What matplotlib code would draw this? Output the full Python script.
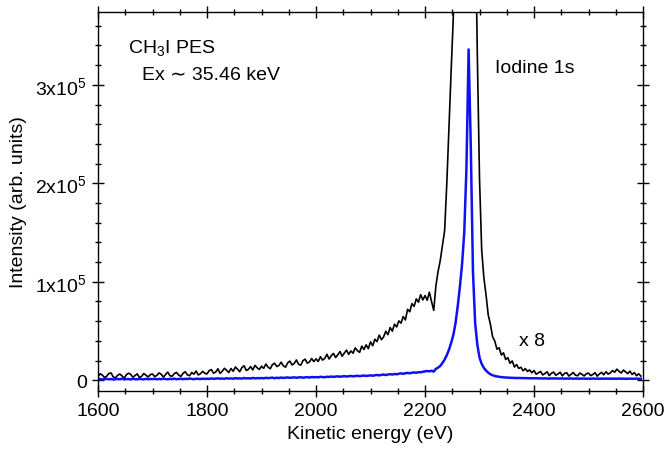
import numpy as np
import matplotlib
matplotlib.use("Agg")
import matplotlib.pyplot as plt
from matplotlib.ticker import MultipleLocator

plt.rcParams['font.family'] = ['Liberation Sans', 'DejaVu Sans']
plt.rcParams['mathtext.fontset'] = 'custom'
plt.rcParams['mathtext.rm'] = 'Liberation Sans'
plt.rcParams['mathtext.it'] = 'Liberation Sans'

# -----------------------------
# data (intensity in 10^3 counts)
# -----------------------------
e_start, e_stop, e_step = 1600, 2596, 4
energy = np.arange(e_start, e_stop + 1, e_step)

# black trace: spectrum x 8
black_k = [
    3.8, 6.5, 5.2, 2.6, 4.1, 6.9, 7.3, 3.2, 2.4, 5.0, 6.2, 4.4, 1.9, 5.6, 7.1, 5.9, 3.0, 4.7, 6.4, 2.7, 3.9, 6.8, 5.1, 3.3, 5.7,
    6.3, 3.6, 4.9, 7.4, 6.0, 3.1, 5.8, 8.2, 4.5, 4.0, 6.7, 7.9, 5.2, 3.8, 6.9, 8.6, 5.5, 4.6, 7.8, 6.1, 9.3, 5.3, 6.6, 9.0, 7.0,
    6.4, 9.7, 10.8, 7.1, 8.3, 11.6, 6.9, 9.2, 12.1, 10.0, 7.8, 11.9, 9.0, 13.4, 11.2, 8.6, 12.8, 14.7, 9.9, 11.0, 13.9, 10.4, 15.1, 12.6, 10.9,
    14.2, 12.0, 16.4, 13.3, 11.6, 15.8, 17.2, 13.9, 15.0, 18.3, 14.6, 13.2, 17.6, 19.4, 15.5, 17.0, 20.6, 16.1, 15.3, 19.8, 21.4, 17.3, 18.6, 22.0, 18.9,
    21.7, 19.0, 23.8, 20.4, 22.1, 26.3, 21.5, 24.9, 27.2, 23.0, 25.8, 29.1, 24.3, 27.6, 30.5, 26.2, 29.7, 27.4, 32.8, 30.0, 28.3, 34.6, 31.2, 35.9, 32.0,
    38.9, 35.0, 41.6, 39.2, 45.8, 41.1, 44.0, 49.7, 46.3, 53.5, 49.8, 56.9, 54.1, 60.2, 58.0, 64.7, 61.2, 72.0, 69.5, 77.8, 75.0, 82.6, 79.3, 86.9, 81.5,
    86.0, 81.2, 89.4, 79.8, 71.0, 96.0, 110.5, 121.8, 137.0, 152.0, 200.0, 258.0, 315.0, 370.0, 470.0, 640.0, 890.0, 1280.0, 1850.0, 2380.0, 2690.0, 2350.0, 1150.0, 480.0, 330.0,
    205.0, 132.0, 104.0, 86.5, 66.2, 56.8, 44.1, 39.7, 31.5, 33.0, 25.6, 27.8, 21.0, 22.9, 17.2, 19.6, 13.4, 15.9, 12.0, 13.1, 9.6, 11.8, 8.9, 10.4, 7.6,
    9.8, 6.1, 7.4, 8.9, 5.3, 6.8, 8.5, 4.6, 7.1, 8.2, 5.0, 6.3, 8.0, 4.4, 6.9, 7.6, 4.2, 5.9, 7.8, 5.1, 4.5, 7.3, 6.0, 4.3, 6.6,
    7.2, 4.6, 5.8, 7.6, 4.1, 6.4, 7.9, 5.5, 8.6, 6.2, 7.4, 9.8, 8.1, 11.2, 9.0, 7.3, 10.3, 8.4, 6.7, 9.1, 5.8, 7.7, 4.6, 6.5, 4.2,
]

# blue trace: raw spectrum
blue_k = [
    0.9, 1.3, 0.7, 1.1, 1.4, 0.8, 1.2, 0.6, 1.0, 1.3, 0.9, 1.5, 0.8, 1.1, 1.2, 0.7, 1.4, 1.0, 0.9, 1.3, 1.1, 0.8, 1.4, 1.0, 1.2,
    1.1, 1.4, 0.9, 1.3, 1.0, 1.5, 1.2, 0.9, 1.4, 1.1, 1.6, 1.0, 1.3, 1.5, 1.1, 1.4, 1.2, 1.7, 1.3, 1.0, 1.5, 1.4, 1.2, 1.6, 1.3,
    1.5, 1.3, 1.8, 1.4, 1.6, 1.9, 1.5, 1.7, 1.4, 2.0, 1.6, 1.8, 1.5, 2.1, 1.7, 1.9, 1.6, 2.2, 1.8, 2.0, 1.7, 2.3, 1.9, 2.1, 2.0,
    2.2, 1.9, 2.4, 2.1, 2.3, 2.6, 2.0, 2.5, 2.2, 2.7, 2.3, 2.5, 2.8, 2.4, 2.6, 2.9, 2.5, 2.8, 3.0, 2.6, 2.9, 3.1, 2.7, 3.2, 3.0,
    3.1, 2.9, 3.4, 3.2, 3.0, 3.5, 3.3, 3.7, 3.4, 3.6, 3.9, 3.5, 3.8, 4.1, 3.7, 4.0, 4.3, 3.9, 4.2, 4.5, 4.1, 4.4, 4.7, 4.3, 4.6,
    4.9, 4.5, 5.0, 5.3, 4.9, 5.4, 5.7, 5.2, 5.8, 6.1, 5.7, 6.3, 6.0, 6.6, 6.9, 6.5, 7.1, 7.4, 7.0, 7.6, 7.9, 7.5, 8.2, 8.0, 8.6,
    8.9, 9.3, 9.0, 9.6, 8.7, 11.5, 12.8, 14.5, 17.5, 21.0, 25.5, 31.0, 38.0, 46.0, 58.0, 75.0, 95.0, 118.0, 150.0, 215.0, 336.0, 237.0, 110.0, 58.0, 36.0,
    23.0, 16.5, 12.5, 9.8, 7.6, 6.0, 5.0, 4.3, 3.8, 3.4, 3.1, 2.9, 2.7, 2.6, 2.5, 2.3, 2.4, 2.2, 2.3, 2.1, 2.2, 2.0, 2.1, 1.9, 2.0,
    1.9, 2.0, 1.8, 1.9, 1.7, 1.9, 1.8, 1.6, 1.8, 1.7, 1.9, 1.6, 1.7, 1.8, 1.5, 1.7, 1.6, 1.8, 1.5, 1.7, 1.6, 1.5, 1.7, 1.6, 1.5,
    1.6, 1.4, 1.7, 1.5, 1.6, 1.4, 1.6, 1.5, 1.7, 1.4, 1.6, 1.5, 1.6, 1.4, 1.7, 1.5, 1.6, 1.4, 1.5, 1.6, 1.4, 1.5, 1.6, 1.4, 1.5,
]

y_ticks = [0, 1e5, 2e5, 3e5]
y_tick_labels = ["0", "1x10$^5$", "2x10$^5$", "3x10$^5$"]

# -----------------------------
# plot
# -----------------------------
fig = plt.figure(figsize=(6.64, 4.52), dpi=100)
ax = fig.add_axes([0.1476, 0.1327, 0.8208, 0.8385])

ax.plot(energy, np.array(black_k) * 1e3, color='black', lw=1.2)
ax.plot(energy, np.array(blue_k) * 1e3, color='#1010f0', lw=1.8)

ax.set_xlim(1600, 2600)
ax.set_ylim(-11000, 374000)
ax.xaxis.set_major_locator(MultipleLocator(200))
ax.xaxis.set_minor_locator(MultipleLocator(50))
ax.set_yticks(y_ticks)
ax.set_yticklabels(y_tick_labels)
ax.yaxis.set_minor_locator(MultipleLocator(2e4))

ax.tick_params(which='both', direction='inout', labelsize=14, width=1.0, pad=4)
ax.tick_params(which='major', length=8)
ax.tick_params(which='minor', length=5)
ax.tick_params(which='both', top=True, right=True)
for sp in ax.spines.values():
    sp.set_linewidth(1.0)

ax.set_xlabel("Kinetic energy (eV)", fontsize=14, labelpad=4)
ax.set_ylabel("Intensity (arb. units)", fontsize=14, labelpad=6)

ax.text(0.055, 0.895, "CH$_3$I PES", transform=ax.transAxes, fontsize=14)
ax.text(0.08, 0.822, "Ex \u223c 35.46 keV", transform=ax.transAxes, fontsize=14,
        family=['Liberation Sans', 'DejaVu Sans'])
ax.text(0.728, 0.842, "Iodine 1s", transform=ax.transAxes, fontsize=14)
ax.text(0.773, 0.122, "x 8", transform=ax.transAxes, fontsize=14)

fig.savefig("out.png", dpi=100)
